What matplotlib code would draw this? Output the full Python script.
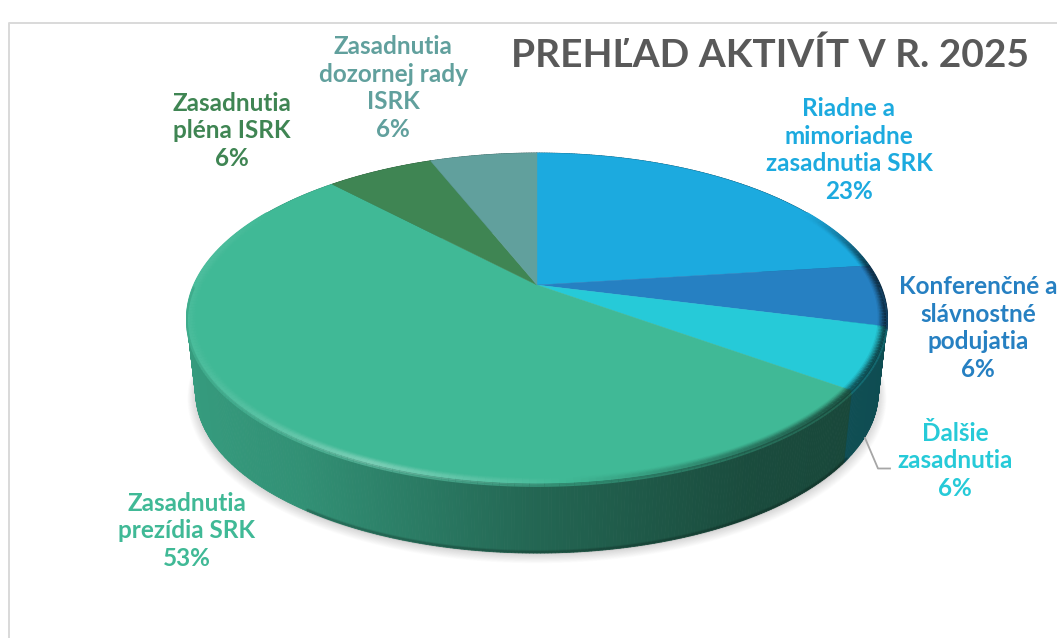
import numpy as np
import matplotlib
matplotlib.use('Agg')
import matplotlib.pyplot as plt
from matplotlib.colors import to_rgb
from matplotlib.collections import PolyCollection, LineCollection

plt.rcParams['font.family'] = ['Lato', 'DejaVu Sans']

# data
labels = ['Riadne a\nmimoriadne\nzasadnutia SRK', 'Konferenčné a\nslávnostné\npodujatia',
          'Ďalšie\nzasadnutia', 'Zasadnutia\nprezídia SRK', 'Zasadnutia\npléna ISRK',
          'Zasadnutia\ndozornej rady\nISRK']
values = [23, 6, 6, 53, 6, 6]
colors = ['#1CAADF', '#2680C2', '#26CAD8', '#40B996', '#3F8553', '#61A09D']
title = 'PREHĽAD AKTIVÍT V R. 2025'

# pixel layout of the tilted pie
cx, cy = 537, 285
bx, by, tilt = 343, 158.4, 0.2
depth = 75
base_scale = 0.975
label_pos = [(849, 150), (978, 328), (955, 461), (187, 531), (232, 131), (393, 88)]


def rim(deg, scale=1.0, dy=0.0):
    # angle clockwise from the top -> point on the tilted circle
    t = np.radians(deg)
    u, v = np.sin(t), np.cos(t)
    w = 1 + tilt * v
    return cx + scale * bx * u / w, cy + dy - scale * by * v / w


def rgb(c):
    return np.array(to_rgb(c))


def side_shade(x):
    return np.interp(x, [187, 300, 537, 750, 887], [0.84, 0.78, 0.55, 0.41, 0.38])


def edge_tone(x):
    return np.interp(x, [187, 240, 370, 520, 680, 800, 887], [0.05, 0.1, 0.3, 0.08, -0.2, -0.45, -0.65])


fig = plt.figure(figsize=(10.57, 6.38), dpi=100)
ax = fig.add_axes([0, 0, 1, 1])
ax.set_xlim(0, 1057)
ax.set_ylim(638, 0)
ax.axis('off')

# chart frame
ax.plot([9, 9, 1057], [638, 23, 23], color='#d9d9d9', lw=1.4, zorder=1)

pct = np.array(values) / sum(values) * 360
edges = np.concatenate([[0], np.cumsum(pct)])

# soft shadow
aa = np.linspace(0, 360, 361)
for i in range(14):
    sx, sy = rim(aa, base_scale + 0.0018 * i, depth + 1 + 0.35 * i)
    ax.fill(sx, sy, color='#808080', alpha=0.022, lw=0, zorder=2)

# side wall
polys, cols, order = [], [], []
for k, c in enumerate(colors):
    a = np.arange(edges[k], edges[k + 1] + 0.5, 0.5)
    a[-1] = min(a[-1], edges[k + 1])
    for a0, a1 in zip(a[:-1], a[1:]):
        x0, y0 = rim(a0)
        x1, y1 = rim(a1)
        x2, y2 = rim(a1, base_scale, depth)
        x3, y3 = rim(a0, base_scale, depth)
        polys.append([(x0, y0), (x1, y1), (x2, y2), (x3, y3)])
        cols.append(tuple(rgb(c) * side_shade((x0 + x1) / 2)))
        order.append(y0)
idx = np.argsort(order)
ax.add_collection(PolyCollection([polys[i] for i in idx], facecolors=[cols[i] for i in idx],
                                 edgecolors=[cols[i] for i in idx], linewidths=0.6, zorder=3))

# darker edge at the foot of the wall
fa = np.linspace(125, 215, 200)
for lw, al in [(3.0, 0.08), (1.6, 0.14)]:
    fx, fy = rim(fa, base_scale, depth - 1)
    ax.plot(fx, fy, color='black', alpha=al, lw=lw, zorder=4, solid_capstyle='round')

# top surface
for k, c in enumerate(colors):
    a = np.linspace(edges[k], edges[k + 1], 120)
    x, y = rim(a)
    ax.fill(np.r_[cx, x], np.r_[cy, y], color=c, ec=c, lw=0.3, zorder=5)

# bevel along the rim
steps = [(0.976, 0, 0.12), (0.98, 0, 0.3), (0.984, 0, 0.5), (0.988, 0, 0.72), (0.992, 0, 0.9),
         (0.996, 0, 1.0), (1.0, 0, 1.0), (1.0, 1.5, 0.8), (1.0, 3, 0.4)]
for s, dy, strength in steps:
    segs, seg_cols = [], []
    for k, c in enumerate(colors):
        a = np.arange(edges[k], edges[k + 1] + 1, 1.0)
        for a0, a1 in zip(a[:-1], a[1:]):
            mid = (a0 + a1) / 2
            back = np.clip((np.cos(np.radians(mid)) - 0.15) / 0.35, 0, 1)
            if back >= 1:
                continue
            if dy > 0 and not 90 < mid < 270:
                continue
            x0, y0 = rim(a0, s, dy)
            x1, y1 = rim(a1, s, dy)
            tone = edge_tone((x0 + x1) / 2) * strength * (1 - back)
            base = rgb(c) if dy == 0 else rgb(c) * side_shade((x0 + x1) / 2) * 0.5 + rgb(c) * 0.5
            if tone > 0:
                col = base + (1 - base) * tone
            else:
                col = base * (1 + tone)
            segs.append([(x0, y0), (x1, y1)])
            seg_cols.append(tuple(np.clip(col, 0, 1)))
    ax.add_collection(LineCollection(segs, colors=seg_cols, linewidths=1.3, zorder=6))

# leader line of the Ďalšie label
ax.plot([865, 878, 890], [438, 468.5, 468.5], color='#a6a6a6', lw=1.3, zorder=7)

# labels
for txt, v, c, pos in zip(labels, values, colors, label_pos):
    ax.text(pos[0], pos[1], f'{txt}\n{v}%', color=c, fontsize=17.5, fontweight='bold',
            ha='center', va='center', linespacing=1.24, zorder=8)

ax.text(770, 55, title, color='#595959', fontsize=28, fontweight='bold',
        ha='center', va='center', zorder=8)

fig.savefig('out.png', dpi=100)
